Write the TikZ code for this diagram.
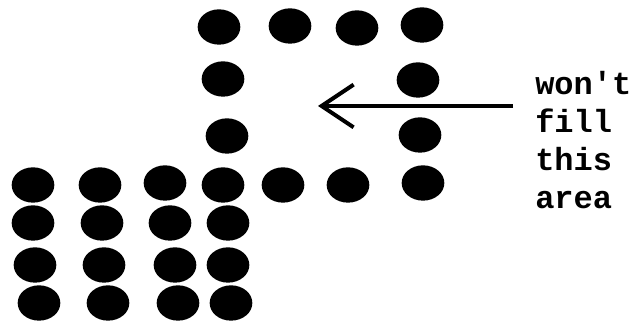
\documentclass[tikz,border=0pt]{standalone}
\usepackage{fontspec}
\newfontfamily\labfont{Liberation Mono}
\usetikzlibrary{arrows.meta,shapes.geometric}
\tikzset{
  dot/.style={ellipse, fill=black, draw=none, inner sep=0pt, minimum width=32pt, minimum height=26.5pt},
  arr/.style={-{Straight Barb[length=24pt,width=32pt]}, draw=black, line width=3pt},
  lab/.style={font=\labfont\bfseries\fontsize{24}{28.5}\selectfont, align=left, inner sep=0pt, anchor=north west},
}

\begin{document}
\begin{tikzpicture}[x=0.75pt, y=-0.75pt]
\useasboundingbox (0,0) rectangle (632,323);
% dots, pixel positions
\foreach \px/\py [count=\i] in {219/27, 290/26, 357/28, 422/25,
    223/79, 227/136, 418/80, 420/135,
    33/185, 100/185, 165/183, 223/185, 283/185, 348/185, 423/183,
    33/223, 102/223, 170/223, 228/223,
    35/265, 104/265, 175/265, 228/265,
    39/303, 108/303, 178/303, 231/303}
  \node[dot] (d\i) at (\px,\py) {};
\node[lab] (note) at (535,71) {won't\\fill\\this\\area};
\coordinate (tail) at (513,106);
\coordinate (hole) at (318,106);
\draw[arr] (tail) -- (hole);
\end{tikzpicture}
\end{document}
